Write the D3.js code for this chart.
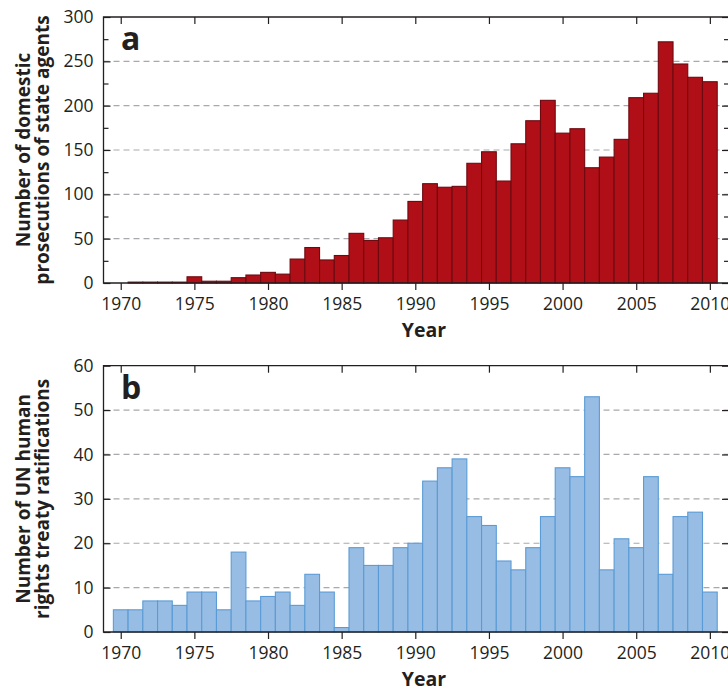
<!DOCTYPE html>
<html>
<head>
<meta charset="utf-8">
<script src="https://cdn.jsdelivr.net/npm/d3@7"></script>
<style>
  body { margin: 0; background: #fff; }
  text { font-family: "Open Sans", sans-serif; fill: #231f20; }
</style>
</head>
<body>
<svg width="728" height="689"></svg>
<script>
const years = [1970,1971,1972,1973,1974,1975,1976,1977,1978,1979,
               1980,1981,1982,1983,1984,1985,1986,1987,1988,1989,
               1990,1991,1992,1993,1994,1995,1996,1997,1998,1999,
               2000,2001,2002,2003,2004,2005,2006,2007,2008,2009,2010];
// panel a: domestic prosecutions of state agents
const prosecutions = [0,1,1,1,1,7,2,2,6,9,
                      12,10,27,40,26,31,56,48,51,71,
                      92,112,108,109,135,148,115,157,183,206,
                      169,174,130,142,162,209,214,272,247,232,227];
// panel b: UN human rights treaty ratifications
const ratifications = [5,5,7,7,6,9,9,5,18,7,
                       8,9,6,13,9,1,19,15,15,19,
                       20,34,37,39,26,24,16,14,19,26,
                       37,35,53,14,21,19,35,13,26,27,9];
const yearTicks = [1970,1975,1980,1985,1990,1995,2000,2005,2010];
const ticksA = [0,50,100,150,200,250,300];
const minorA = [25,75,125,175,225,275];
const ticksB = [0,10,20,30,40,50,60];

const svg = d3.select("svg");
const left = 103.5, right = 729;

const x = d3.scaleLinear().domain([1968.83, 2011.3]).range([left, right]);

function panel(opt) {
    const y = d3.scaleLinear().domain([0, opt.max]).range([opt.bottom, opt.top]);
    const g = svg.append("g");

    // dashed grid
    g.selectAll(".grid").data(opt.ticks.filter(t => t > 0 && t < opt.max))
      .enter().append("line")
      .attr("x1", left).attr("x2", right)
      .attr("y1", d => y(d)).attr("y2", d => y(d))
      .attr("stroke", "#a7a9ac").attr("stroke-width", 1.2)
      .attr("stroke-dasharray", "6,4");

    // bars
    g.selectAll(".bar").data(years.map((yr, i) => ({yr: yr, v: opt.values[i]})).filter(d => d.v > 0))
      .enter().append("rect")
      .attr("x", d => x(d.yr - 0.5))
      .attr("width", d => x(d.yr + 0.5) - x(d.yr - 0.5))
      .attr("y", d => y(d.v))
      .attr("height", d => opt.bottom - y(d.v))
      .attr("fill", opt.fill)
      .attr("stroke", opt.stroke).attr("stroke-width", 1.1);

    // left axis
    const ya = g.append("g").attr("transform", `translate(${left},0)`);
    const ra = g.append("g").attr("transform", `translate(${right},0)`);
    if (opt.minor) {
        ya.call(d3.axisLeft(y).tickValues(opt.minor).tickSize(-5).tickFormat(""));
        ra.call(d3.axisRight(y).tickValues(opt.minor).tickSize(-5).tickFormat(""));
    }
    g.append("g").attr("transform", `translate(${left},0)`)
      .call(d3.axisLeft(y).tickValues(opt.ticks).tickSize(-7).tickPadding(10));
    g.append("g").attr("transform", `translate(${right},0)`)
      .call(d3.axisRight(y).tickValues(opt.ticks).tickSize(-7).tickFormat(""));

    // bottom axis (ticks outward) and top axis (ticks inward)
    g.append("g").attr("transform", `translate(0,${opt.bottom})`)
      .call(d3.axisBottom(x).tickValues(yearTicks).tickSize(7).tickPadding(8).tickFormat(d3.format("d")));
    g.append("g").attr("transform", `translate(0,${opt.top})`)
      .call(d3.axisTop(x).tickValues(yearTicks).tickSize(-7).tickFormat(""));

    g.selectAll(".domain").remove();
    g.selectAll(".tick line").attr("stroke", "#231f20").attr("stroke-width", 1.2);
    g.selectAll(".tick text").style("font-size", "17.5px").style("font-family", "'Open Sans', sans-serif").attr("fill", "#231f20");

    // frame
    g.append("path")
      .attr("d", `M${right},${opt.top}H${left}V${opt.bottom}H${right}`)
      .attr("fill", "none").attr("stroke", "#231f20").attr("stroke-width", 1.3);

    // panel letter
    g.append("text").attr("x", 121).attr("y", opt.top + 33)
      .style("font-size", "32px").style("font-weight", "bold").text(opt.letter);

    // x title
    g.append("text").attr("x", 424).attr("y", opt.bottom + 54).attr("text-anchor", "middle")
      .style("font-size", "19.5px").style("font-weight", "bold").text("Year");

    // y title
    const cy = (opt.top + opt.bottom) / 2;
    const t = g.append("text").attr("text-anchor", "middle")
      .attr("transform", `rotate(-90)`)
      .style("font-size", "19px").style("font-weight", "bold");
    t.append("tspan").attr("x", -cy).attr("y", 30).text(opt.title[0]);
    t.append("tspan").attr("x", -cy).attr("y", 49).text(opt.title[1]);
}

panel({top: 17, bottom: 283, max: 300, values: prosecutions, ticks: ticksA, minor: minorA,
       fill: "#b10f17", stroke: "#6d0a10", letter: "a",
       title: ["Number of domestic", "prosecutions of state agents"]});
panel({top: 365.7, bottom: 632, max: 60, values: ratifications, ticks: ticksB, minor: null,
       fill: "#97bde4", stroke: "#5b9bd5", letter: "b",
       title: ["Number of UN human", "rights treaty ratifications"]});
</script>
</body>
</html>
